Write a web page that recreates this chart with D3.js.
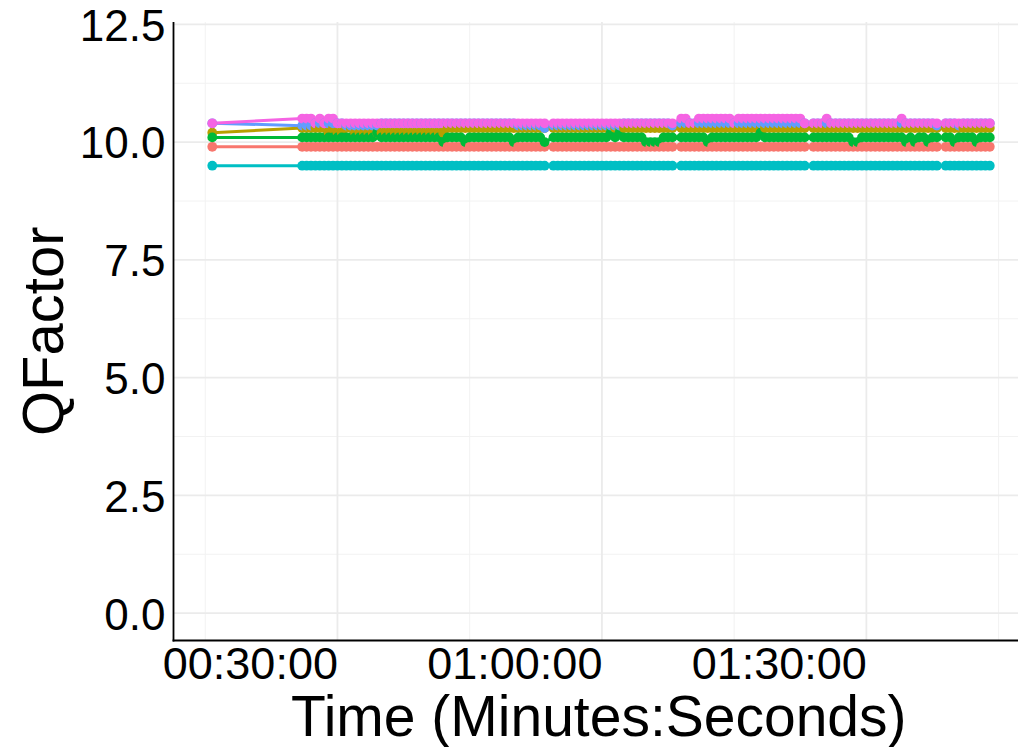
<!DOCTYPE html>
<html>
<head>
<meta charset="utf-8">
<script src="https://cdn.jsdelivr.net/npm/d3@7"></script>
<style>
  html, body { margin: 0; padding: 0; background: #ffffff; }
  svg { display: block; font-family: "Liberation Sans", Arial, Helvetica, sans-serif; }
</style>
</head>
<body>
<svg id="chart" width="1020" height="747"></svg>
<script>
// Sample times in minutes since start
const timesMin = [15.8,
  26,26.5,27,27.5,28,28.5,29,29.5,30,30.5,
  31,31.5,32,32.5,33,33.5,34,34.5,35,35.5,
  36,36.5,37,37.5,38,38.5,39,39.5,40,40.5,
  41,41.5,42,42.5,43,43.5,44,44.5,45,45.5,
  46,46.5,47,47.5,48,48.5,49,49.5,50,50.5,
  51,51.5,52,52.5,53,53.5,54.5,55,55.5,56,
  56.5,57,57.5,58,58.5,59,59.5,60,60.5,61,
  61.5,62,62.5,63,63.5,64,64.5,65,65.5,66,
  66.5,67,67.5,68,69,69.5,70,70.5,71,71.5,
  72,72.5,73,73.5,74,74.5,75,75.5,76,76.5,
  77,77.5,78,78.5,79,79.5,80,80.5,81,81.5,
  82,82.5,83,84,84.5,85,85.5,86,86.5,87,
  87.5,88,88.5,89,89.5,90,90.5,91,91.5,92,
  92.5,93,93.5,94,94.5,95,95.5,96,96.5,97,
  97.5,98,99,99.5,100,100.5,101,101.5,102,102.5,
  103,103.5,104];

// QFactor readings per channel
const channel1 = [9.9,
  9.9,9.9,9.9,9.9,9.9,9.9,9.9,9.9,9.9,9.9,
  9.9,9.9,9.9,9.9,9.9,9.9,9.9,9.9,9.9,9.9,
  9.9,9.9,9.9,9.9,9.9,9.9,9.9,9.9,9.9,9.9,
  9.9,9.9,9.9,9.9,9.9,9.9,9.9,9.9,9.9,9.9,
  9.9,9.9,9.9,9.9,9.9,9.9,9.9,9.9,9.9,9.9,
  9.9,9.9,9.9,9.9,9.9,9.9,9.9,9.9,9.9,9.9,
  9.9,9.9,9.9,9.9,9.9,9.9,9.9,9.9,9.9,9.9,
  9.9,9.9,9.9,9.9,9.9,9.9,9.9,9.9,9.9,9.9,
  9.9,9.9,9.9,9.9,9.9,9.9,9.9,9.9,9.9,9.9,
  9.9,9.9,9.9,9.9,9.9,9.9,9.9,9.9,9.9,9.9,
  9.9,9.9,9.9,9.9,9.9,9.9,9.9,9.9,9.9,9.9,
  9.9,9.9,9.9,9.9,9.9,9.9,9.9,9.9,9.9,9.9,
  9.9,9.9,9.9,9.9,9.9,9.9,9.9,9.9,9.9,9.9,
  9.9,9.9,9.9,9.9,9.9,9.9,9.9,9.9,9.9,9.9,
  9.9,9.9,9.9,9.9,9.9,9.9,9.9,9.9,9.9,9.9,
  9.9,9.9,9.9];

const channel2 = [10.2,
  10.3,10.3,10.3,10.3,10.3,10.3,10.2,10.3,10.2,10.2,
  10.3,10.3,10.2,10.2,10.2,10.2,10.2,10.2,10.2,10.2,
  10.2,10.2,10.2,10.2,10.2,10.2,10.2,10.2,10.2,10.2,
  10.2,10.2,10.2,10.3,10.3,10.3,10.3,10.3,10.3,10.3,
  10.3,10.3,10.3,10.3,10.3,10.3,10.3,10.3,10.3,10.3,
  10.3,10.3,10.3,10.3,10.3,10.3,10.3,10.3,10.3,10.3,
  10.3,10.3,10.3,10.3,10.3,10.3,10.3,10.3,10.3,10.3,
  10.3,10.3,10.3,10.3,10.3,10.3,10.3,10.3,10.3,10.3,
  10.3,10.3,10.3,10.3,10.3,10.3,10.3,10.3,10.3,10.3,
  10.3,10.3,10.3,10.3,10.3,10.3,10.3,10.3,10.3,10.3,
  10.3,10.3,10.3,10.3,10.3,10.3,10.3,10.3,10.3,10.3,
  10.3,10.3,10.3,10.3,10.3,10.3,10.3,10.3,10.3,10.3,
  10.3,10.3,10.3,10.3,10.3,10.3,10.3,10.3,10.3,10.3,
  10.3,10.3,10.3,10.3,10.3,10.3,10.3,10.3,10.3,10.3,
  10.3,10.3,10.3,10.3,10.3,10.3,10.3,10.3,10.3,10.3,
  10.3,10.3,10.3];

const channel3 = [10.1,
  10.1,10.1,10.1,10.1,10.1,10.1,10.1,10.1,10.1,10.1,
  10.1,10.1,10.1,10.1,10.1,10.1,10.1,10.2,10.1,10.1,
  10.1,10.1,10.1,10.1,10.1,10.1,10.1,10.1,10.1,10.1,
  10.1,10.1,10.0,10.1,10.1,10.1,10.1,10.0,10.1,10.1,
  10.1,10.1,10.1,10.1,10.1,10.1,10.1,10.1,10.0,10.1,
  10.1,10.1,10.1,10.1,10.1,10.0,10.1,10.1,10.1,10.1,
  10.1,10.1,10.1,10.1,10.1,10.1,10.1,10.1,10.1,10.2,
  10.1,10.2,10.1,10.1,10.1,10.1,10.1,10.0,10.0,10.0,
  10.0,10.1,10.1,10.1,10.1,10.1,10.1,10.1,10.1,10.1,
  10.0,10.1,10.1,10.1,10.1,10.1,10.1,10.1,10.1,10.1,
  10.1,10.1,10.2,10.1,10.1,10.1,10.1,10.1,10.1,10.1,
  10.1,10.1,10.1,10.1,10.1,10.1,10.1,10.1,10.1,10.1,
  10.1,10.1,10.0,10.0,10.1,10.1,10.1,10.1,10.1,10.1,
  10.1,10.1,10.1,10.1,10.0,10.1,10.0,10.1,10.1,10.0,
  10.1,10.1,10.1,10.1,10.0,10.1,10.1,10.1,10.1,10.0,
  10.1,10.1,10.1];

const channel4 = [9.5,
  9.5,9.5,9.5,9.5,9.5,9.5,9.5,9.5,9.5,9.5,
  9.5,9.5,9.5,9.5,9.5,9.5,9.5,9.5,9.5,9.5,
  9.5,9.5,9.5,9.5,9.5,9.5,9.5,9.5,9.5,9.5,
  9.5,9.5,9.5,9.5,9.5,9.5,9.5,9.5,9.5,9.5,
  9.5,9.5,9.5,9.5,9.5,9.5,9.5,9.5,9.5,9.5,
  9.5,9.5,9.5,9.5,9.5,9.5,9.5,9.5,9.5,9.5,
  9.5,9.5,9.5,9.5,9.5,9.5,9.5,9.5,9.5,9.5,
  9.5,9.5,9.5,9.5,9.5,9.5,9.5,9.5,9.5,9.5,
  9.5,9.5,9.5,9.5,9.5,9.5,9.5,9.5,9.5,9.5,
  9.5,9.5,9.5,9.5,9.5,9.5,9.5,9.5,9.5,9.5,
  9.5,9.5,9.5,9.5,9.5,9.5,9.5,9.5,9.5,9.5,
  9.5,9.5,9.5,9.5,9.5,9.5,9.5,9.5,9.5,9.5,
  9.5,9.5,9.5,9.5,9.5,9.5,9.5,9.5,9.5,9.5,
  9.5,9.5,9.5,9.5,9.5,9.5,9.5,9.5,9.5,9.5,
  9.5,9.5,9.5,9.5,9.5,9.5,9.5,9.5,9.5,9.5,
  9.5,9.5,9.5];

const channel5 = [10.4,
  10.35,10.35,10.35,10.4,10.4,10.4,10.4,10.4,10.4,10.4,
  10.35,10.35,10.35,10.35,10.35,10.35,10.35,10.35,10.4,10.4,
  10.4,10.4,10.4,10.4,10.4,10.4,10.4,10.4,10.4,10.4,
  10.4,10.4,10.4,10.4,10.4,10.4,10.4,10.4,10.4,10.4,
  10.4,10.4,10.4,10.4,10.4,10.4,10.4,10.4,10.4,10.35,
  10.35,10.35,10.35,10.35,10.35,10.3,10.35,10.35,10.35,10.35,
  10.35,10.35,10.35,10.35,10.35,10.35,10.35,10.35,10.35,10.35,
  10.35,10.35,10.4,10.4,10.4,10.4,10.4,10.4,10.4,10.4,
  10.4,10.4,10.4,10.35,10.4,10.4,10.4,10.4,10.4,10.4,
  10.4,10.4,10.4,10.4,10.4,10.4,10.4,10.4,10.4,10.4,
  10.4,10.4,10.4,10.4,10.4,10.4,10.4,10.4,10.4,10.4,
  10.4,10.4,10.4,10.4,10.4,10.4,10.4,10.4,10.4,10.4,
  10.4,10.4,10.4,10.4,10.4,10.4,10.4,10.4,10.4,10.4,
  10.4,10.4,10.4,10.4,10.4,10.4,10.4,10.4,10.4,10.4,
  10.4,10.35,10.4,10.4,10.4,10.35,10.4,10.4,10.4,10.4,
  10.4,10.4,10.4];

const channel6 = [10.4,
  10.5,10.5,10.5,10.4,10.5,10.4,10.5,10.5,10.4,10.4,
  10.4,10.4,10.4,10.4,10.4,10.4,10.4,10.4,10.4,10.4,
  10.4,10.4,10.4,10.4,10.4,10.4,10.4,10.4,10.4,10.4,
  10.4,10.4,10.4,10.4,10.4,10.4,10.4,10.4,10.4,10.4,
  10.4,10.4,10.4,10.4,10.4,10.4,10.4,10.4,10.4,10.4,
  10.4,10.4,10.4,10.4,10.4,10.4,10.4,10.4,10.4,10.4,
  10.4,10.4,10.4,10.4,10.4,10.4,10.4,10.4,10.4,10.4,
  10.4,10.4,10.4,10.4,10.4,10.4,10.4,10.4,10.4,10.4,
  10.4,10.4,10.4,10.4,10.5,10.5,10.4,10.4,10.5,10.5,
  10.5,10.5,10.5,10.5,10.5,10.5,10.4,10.5,10.5,10.5,
  10.5,10.5,10.5,10.5,10.5,10.5,10.5,10.5,10.5,10.5,
  10.5,10.5,10.4,10.4,10.4,10.4,10.5,10.4,10.4,10.4,
  10.4,10.4,10.4,10.4,10.4,10.4,10.4,10.4,10.4,10.4,
  10.4,10.4,10.4,10.5,10.4,10.4,10.4,10.4,10.4,10.4,
  10.4,10.4,10.4,10.4,10.4,10.4,10.4,10.4,10.4,10.4,
  10.4,10.4,10.4];

const channelNames = ["1", "2", "3", "4", "5", "6"];
const channelColors = ["#F8766D", "#B79F00", "#00BA38", "#00BFC4", "#619CFF", "#F564E3"];

const yTicks = [0, 2.5, 5, 7.5, 10, 12.5];
const yMinorTicks = [1.25, 3.75, 6.25, 8.75, 11.25];
const xTicks = [30, 60, 90];
const xTickLabels = ["00:30:00", "01:00:00", "01:30:00"];
const xMinorTicks = [15, 45, 75, 105];

const channels = [channel1, channel2, channel3, channel4, channel5, channel6];
const series = channels.map((vals, i) => ({
  name: channelNames[i],
  color: channelColors[i],
  points: vals.map((v, j) => ({ t: timesMin[j], q: v, color: channelColors[i] }))
}));

// points are stacked in reading order: by time, then by channel
const allPoints = [];
timesMin.forEach((t, j) => series.forEach(s => allPoints.push(s.points[j])));

const svg = d3.select("#chart");
const panel = { left: 173.5, right: 1018, top: 22, bottom: 640.5 };

const x = d3.scaleLinear().domain([11.4, 107.2]).range([panel.left, panel.right]);
const y = d3.scaleLinear().domain([-0.58, 12.55]).range([panel.bottom, panel.top]);

svg.append("rect").attr("width", 1020).attr("height", 747).attr("fill", "#ffffff");

// grid
const grid = svg.append("g");
grid.selectAll("line.ymin").data(yMinorTicks).join("line")
  .attr("x1", panel.left).attr("x2", panel.right)
  .attr("y1", d => y(d)).attr("y2", d => y(d))
  .attr("stroke", "#f2f2f2").attr("stroke-width", 1);
grid.selectAll("line.xmin").data(xMinorTicks).join("line")
  .attr("y1", panel.top).attr("y2", panel.bottom)
  .attr("x1", d => x(d)).attr("x2", d => x(d))
  .attr("stroke", "#f2f2f2").attr("stroke-width", 1);
grid.selectAll("line.ymaj").data(yTicks).join("line")
  .attr("x1", panel.left).attr("x2", panel.right)
  .attr("y1", d => y(d)).attr("y2", d => y(d))
  .attr("stroke", "#ebebeb").attr("stroke-width", 1.8);
grid.selectAll("line.xmaj").data(xTicks).join("line")
  .attr("y1", panel.top).attr("y2", panel.bottom)
  .attr("x1", d => x(d)).attr("x2", d => x(d))
  .attr("stroke", "#ebebeb").attr("stroke-width", 1.8);

// lines, then points
const line = d3.line().x(d => x(d.t)).y(d => y(d.q));
svg.append("g").selectAll("path").data(series).join("path")
  .attr("d", d => line(d.points))
  .attr("fill", "none")
  .attr("stroke", d => d.color)
  .attr("stroke-width", 3)
  .attr("stroke-linejoin", "round");

svg.append("g").selectAll("circle").data(allPoints).join("circle")
  .attr("cx", d => x(d.t)).attr("cy", d => y(d.q))
  .attr("r", 4.9)
  .attr("fill", d => d.color);

// axes
const fmt = d3.format(".1f");
const yAxis = svg.append("g")
  .attr("transform", `translate(${panel.left},0)`)
  .call(d3.axisLeft(y).tickValues(yTicks).tickFormat(fmt).tickSize(0).tickPadding(8));
yAxis.select(".domain").remove();
yAxis.selectAll("text")
  .attr("font-size", 44).attr("fill", "#000").attr("dy", "0.36em")
  .attr("font-family", "'Liberation Sans', Arial, Helvetica, sans-serif");

const xAxis = svg.append("g")
  .attr("transform", `translate(0,${panel.bottom})`)
  .call(d3.axisBottom(x).tickValues(xTicks).tickFormat((d, i) => xTickLabels[i]).tickSize(0).tickPadding(0));
xAxis.select(".domain").remove();
xAxis.selectAll("text")
  .attr("font-size", 45).attr("fill", "#000")
  .attr("text-anchor", "end").attr("y", 38).attr("dy", 0)
  .attr("font-family", "'Liberation Sans', Arial, Helvetica, sans-serif");

// axis lines
svg.append("line")
  .attr("x1", panel.left).attr("x2", panel.left)
  .attr("y1", panel.top).attr("y2", panel.bottom + 0.9)
  .attr("stroke", "#000").attr("stroke-width", 1.8);
svg.append("line")
  .attr("x1", panel.left - 0.9).attr("x2", panel.right)
  .attr("y1", panel.bottom).attr("y2", panel.bottom)
  .attr("stroke", "#000").attr("stroke-width", 1.8);

// titles
svg.append("text")
  .attr("x", (panel.left + panel.right) / 2 + 3).attr("y", 736)
  .attr("text-anchor", "middle").attr("font-size", 57).attr("fill", "#000")
  .text("Time (Minutes:Seconds)");
svg.append("text")
  .attr("transform", `translate(63,${(panel.top + panel.bottom) / 2}) rotate(-90)`)
  .attr("text-anchor", "middle").attr("font-size", 58).attr("fill", "#000")
  .text("QFactor");
</script>
</body>
</html>
